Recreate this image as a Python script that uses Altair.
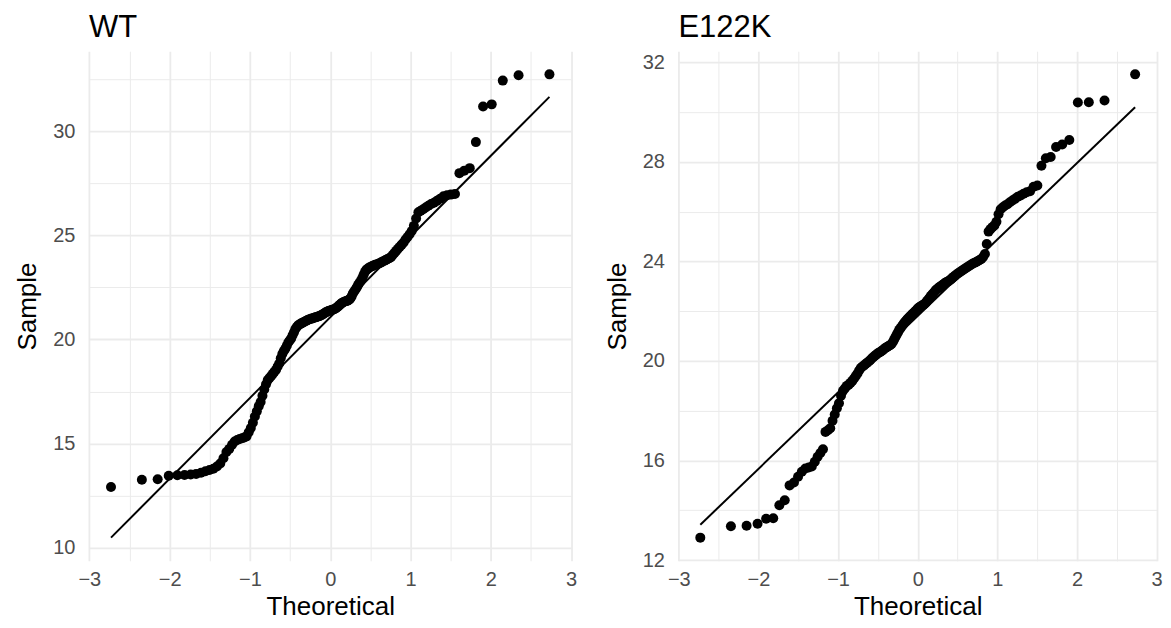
import altair as alt
import pandas as pd

# Sorted sample values (n = 158 per group)
WT_SAMPLE = [
    12.92, 13.27, 13.29, 13.46, 13.48, 13.50, 13.52, 13.55, 13.60, 13.68,
    13.74, 13.80, 13.90, 14.05, 14.30, 14.60, 14.75, 14.95, 15.10, 15.18,
    15.22, 15.26, 15.30, 15.35, 15.55, 15.75, 16.00, 16.30, 16.55, 16.80,
    17.00, 17.30, 17.60, 17.85, 18.05, 18.15, 18.25, 18.35, 18.45, 18.55,
    18.70, 18.85, 19.10, 19.30, 19.45, 19.55, 19.70, 19.85, 19.95, 20.05,
    20.20, 20.35, 20.50, 20.60, 20.68, 20.72, 20.76, 20.80, 20.83, 20.86,
    20.90, 20.93, 20.96, 20.98, 21.00, 21.02, 21.04, 21.06, 21.08, 21.10,
    21.12, 21.15, 21.18, 21.22, 21.26, 21.30, 21.33, 21.36, 21.38, 21.40,
    21.42, 21.44, 21.46, 21.50, 21.55, 21.60, 21.66, 21.72, 21.76, 21.80,
    21.82, 21.84, 21.86, 21.90, 21.95, 22.05, 22.20, 22.30, 22.40, 22.50,
    22.62, 22.72, 22.82, 22.95, 23.10, 23.25, 23.35, 23.40, 23.45, 23.48,
    23.52, 23.55, 23.58, 23.60, 23.63, 23.66, 23.70, 23.74, 23.78, 23.82,
    23.86, 23.90, 23.95, 24.05, 24.15, 24.25, 24.35, 24.45, 24.55, 24.65,
    24.80, 24.92, 25.05, 25.20, 25.45, 25.80, 26.10, 26.18, 26.25, 26.33,
    26.42, 26.50, 26.56, 26.65, 26.75, 26.87, 26.92, 26.95, 26.98, 27.98,
    28.10, 28.22, 29.47, 31.18, 31.28, 32.42, 32.68, 32.72,
]

E122K_SAMPLE = [
    12.90, 13.36, 13.38, 13.46, 13.66, 13.68, 14.20, 14.40, 15.00, 15.12,
    15.35, 15.55, 15.68, 15.72, 15.76, 15.95, 16.15, 16.30, 16.45, 17.15,
    17.22, 17.30, 17.60, 17.85, 18.10, 18.30, 18.60, 18.80, 18.90, 19.00,
    19.05, 19.12, 19.20, 19.30, 19.40, 19.50, 19.62, 19.72, 19.78, 19.82,
    19.88, 19.93, 19.98, 20.03, 20.10, 20.15, 20.20, 20.25, 20.30, 20.33,
    20.37, 20.40, 20.45, 20.50, 20.53, 20.57, 20.60, 20.63, 20.67, 20.75,
    20.85, 20.95, 21.05, 21.15, 21.25, 21.32, 21.40, 21.47, 21.55, 21.60,
    21.67, 21.72, 21.77, 21.82, 21.88, 21.92, 21.97, 22.02, 22.08, 22.13,
    22.17, 22.20, 22.23, 22.26, 22.30, 22.35, 22.42, 22.48, 22.55, 22.62,
    22.68, 22.73, 22.80, 22.86, 22.90, 22.95, 22.98, 23.02, 23.06, 23.10,
    23.14, 23.18, 23.20, 23.24, 23.28, 23.33, 23.38, 23.43, 23.48, 23.52,
    23.56, 23.60, 23.64, 23.68, 23.72, 23.76, 23.80, 23.84, 23.88, 23.92,
    23.95, 23.98, 24.02, 24.06, 24.10, 24.18, 24.30, 24.70, 25.20, 25.30,
    25.38, 25.45, 25.60, 25.90, 26.10, 26.18, 26.25, 26.30, 26.38, 26.45,
    26.52, 26.60, 26.65, 26.72, 26.78, 26.82, 27.00, 27.05, 27.85, 28.15,
    28.20, 28.60, 28.70, 28.88, 30.39, 30.40, 30.47, 31.52,
]

# Reference lines (through the quartiles), end points at the theoretical extremes
LINE_X = [-2.73, 2.73]
WT_LINE_Y = [10.49, 31.64]
E122K_LINE_Y = [13.42, 30.20]

# Axis ticks (major + minor grid positions)
X_TICKS = [-3, -2.5, -2, -1.5, -1, -0.5, 0, 0.5, 1, 1.5, 2, 2.5, 3]
WT_Y_TICKS = [10, 12.5, 15, 17.5, 20, 22.5, 25, 27.5, 30, 32.5]
E122K_Y_TICKS = [12, 14, 16, 18, 20, 22, 24, 26, 28, 30, 32]

FONT = "Liberation Sans"
GRID = "#EBEBEB"
MAJOR_W = 1.8
MINOR_W = 1.0


def grid_width(test):
    return {"condition": {"test": test, "value": MAJOR_W}, "value": MINOR_W}


def panel(title, sample, line_y, y_domain, y_ticks, major_test, width, height):
    pts = pd.DataFrame({"sample": sample})
    ln = pd.DataFrame({"theoretical": LINE_X, "sample": line_y})

    x_enc = alt.X(
        "theoretical:Q",
        scale=alt.Scale(domain=[-3.005, 3.005], nice=False, zero=False),
        axis=alt.Axis(
            values=X_TICKS,
            format="~g",
            title="Theoretical",
            labelExpr="datum.value % 1 === 0 ? datum.label : ''",
            gridWidth=grid_width("datum.value % 1 === 0"),
            labelPadding=9,
            titlePadding=4,
        ),
    )
    y_enc = alt.Y(
        "sample:Q",
        scale=alt.Scale(domain=y_domain, nice=False, zero=False),
        axis=alt.Axis(
            values=y_ticks,
            format="~g",
            title="Sample",
            labelExpr=f"{major_test} ? datum.label : ''",
            gridWidth=grid_width(major_test),
            labelPadding=14,
            titlePadding=12,
        ),
    )

    points = (
        alt.Chart(pts)
        .transform_window(rank="row_number()", sort=[alt.SortField("sample", order="ascending")])
        .transform_joinaggregate(n="count()")
        .transform_calculate(theoretical="quantileNormal((datum.rank - 0.5) / datum.n)")
        .mark_circle(size=100, color="black", opacity=1)
        .encode(x=x_enc, y=y_enc)
    )
    line = alt.Chart(ln).mark_line(color="black", strokeWidth=2).encode(x=x_enc, y=y_enc)

    return alt.layer(points, line).properties(
        width=width,
        height=height,
        title=alt.TitleParams(
            text=title,
            anchor="start",
            frame="group",
            fontSize=31,
            font=FONT,
            fontWeight="normal",
            color="black",
            offset=7,
        ),
    )


wt = panel("WT", WT_SAMPLE, WT_LINE_Y, [9.38, 33.83], WT_Y_TICKS,
           "datum.value % 5 === 0", 483, 510)
e1 = panel("E122K", E122K_SAMPLE, E122K_LINE_Y, [11.97, 32.45], E122K_Y_TICKS,
           "datum.value % 4 === 0", 479, 510)

chart = (
    alt.hconcat(wt, e1, spacing=26)
    .configure(padding={"left": 6, "top": 4, "right": 0, "bottom": 0})
    .configure_axis(
        labelFont=FONT,
        titleFont=FONT,
        labelFontSize=20,
        titleFontSize=26,
        labelColor="#4D4D4D",
        titleColor="black",
        titleFontWeight="normal",
        domain=False,
        ticks=False,
        tickSize=0,
        gridColor=GRID,
        labelOverlap=False,
        labelFlush=False,
    )
    .configure_view(stroke=None)
)

chart.save("out.html", embed_options={"renderer": "svg", "actions": False})
